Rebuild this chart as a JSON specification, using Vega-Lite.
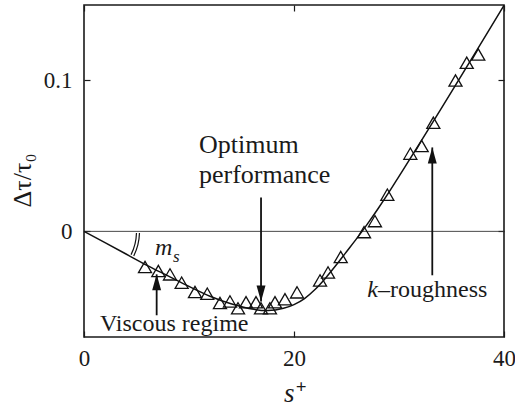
{
  "$schema": "https://vega.github.io/schema/vega-lite/v6.json",
  "width": 420,
  "height": 332,
  "autosize": {"type": "none"},
  "padding": {"left": 84, "top": 5, "right": 11, "bottom": 69},
  "background": "white",
  "config": {
    "view": {"stroke": "#1a1a1a", "strokeWidth": 1.6},
    "font": "'Liberation Serif', 'Times New Roman', Times, 'Noto Serif', 'DejaVu Serif', serif",
    "axis": {
      "domain": false,
      "grid": false,
      "ticks": true,
      "tickColor": "#1a1a1a",
      "tickWidth": 1.2,
      "tickSize": -6,
      "labelFont": "'Liberation Serif', 'Times New Roman', Times, 'Noto Serif', 'DejaVu Serif', serif",
      "labelFontSize": 23,
      "labelColor": "#1a1a1a",
      "labelFlush": false,
      "titleFont": "'Liberation Serif', 'Times New Roman', Times, 'Noto Serif', 'DejaVu Serif', serif",
      "titleColor": "#1a1a1a",
      "titleFontWeight": "normal"
    }
  },
  "datasets": {
    "curve": [
      {"s": 0, "tau": 0}, {"s": 4, "tau": -0.015}, {"s": 6, "tau": -0.0225},
      {"s": 8, "tau": -0.0295}, {"s": 10, "tau": -0.0365}, {"s": 12, "tau": -0.043},
      {"s": 14, "tau": -0.048}, {"s": 16, "tau": -0.0515}, {"s": 17.5, "tau": -0.0525},
      {"s": 19, "tau": -0.051}, {"s": 20, "tau": -0.0485}, {"s": 21, "tau": -0.0445},
      {"s": 22, "tau": -0.0385}, {"s": 23, "tau": -0.031}, {"s": 24, "tau": -0.0225},
      {"s": 25, "tau": -0.0135}, {"s": 26, "tau": -0.0045}, {"s": 27, "tau": 0.005},
      {"s": 28, "tau": 0.015}, {"s": 29, "tau": 0.0255}, {"s": 30, "tau": 0.0365},
      {"s": 31, "tau": 0.0475}, {"s": 40, "tau": 0.1497}
    ],
    "measured": [
      {"s": 5.81, "tau": -0.0236}, {"s": 7.08, "tau": -0.0263}, {"s": 8.19, "tau": -0.0285},
      {"s": 9.3, "tau": -0.034}, {"s": 10.57, "tau": -0.0402}, {"s": 11.74, "tau": -0.0413},
      {"s": 12.95, "tau": -0.0475}, {"s": 13.9, "tau": -0.0464}, {"s": 14.67, "tau": -0.051},
      {"s": 15.43, "tau": -0.047}, {"s": 16.38, "tau": -0.047}, {"s": 16.86, "tau": -0.051},
      {"s": 17.71, "tau": -0.051}, {"s": 18.19, "tau": -0.047}, {"s": 19.14, "tau": -0.045},
      {"s": 20.29, "tau": -0.0404}, {"s": 22.48, "tau": -0.0325}, {"s": 23.24, "tau": -0.0272},
      {"s": 24.45, "tau": -0.017}, {"s": 26.67, "tau": -0.0005}, {"s": 27.71, "tau": 0.0068},
      {"s": 28.89, "tau": 0.0243}, {"s": 31.08, "tau": 0.0515}, {"s": 32.16, "tau": 0.0566},
      {"s": 33.27, "tau": 0.072}, {"s": 35.38, "tau": 0.1}, {"s": 36.45, "tau": 0.1117},
      {"s": 37.55, "tau": 0.1172}
    ],
    "arrows": [
      {"s": 16.86, "tail": 0.0225, "tip": -0.0464, "dir": "down"},
      {"s": 6.92, "tail": -0.0556, "tip": -0.0285, "dir": "up"},
      {"s": 33.17, "tail": -0.0291, "tip": 0.0556, "dir": "up"}
    ],
    "headline": [
      {"s": 10.95, "tau": 0.0517, "label": "Optimum"},
      {"s": 10.95, "tau": 0.0318, "label": "performance"}
    ],
    "notes": [
      {"s": 1.52, "tau": -0.0662, "label": "Viscous regime"},
      {"s": 28.0, "tau": -0.0437, "label": "–roughness"}
    ]
  },
  "layer": [
    {
      "data": {"values": [{"tau": 0}]},
      "mark": {"type": "rule", "color": "#333333", "strokeWidth": 0.9},
      "encoding": {
        "y": {"field": "tau", "type": "quantitative", "scale": {"domain": [-0.07, 0.15], "nice": false}, "axis": null}
      }
    },
    {
      "data": {"name": "curve"},
      "mark": {"type": "line", "color": "#111111", "strokeWidth": 1.5, "interpolate": "monotone"},
      "encoding": {
        "x": {
          "field": "s", "type": "quantitative", "scale": {"domain": [0, 40], "nice": false},
          "axis": {"orient": "bottom", "values": [0, 20, 40], "labelPadding": 16,
                   "title": "s⁺", "titleFontSize": 27, "titleFontStyle": "italic",
                   "titleBaseline": "alphabetic", "titleY": 64}
        },
        "y": {
          "field": "tau", "type": "quantitative", "scale": {"domain": [-0.07, 0.15], "nice": false},
          "axis": {"orient": "left", "values": [0, 0.1], "format": "~g", "labelPadding": 18,
                   "title": "Δτ/τ₀", "titleFontSize": 26, "titleAngle": -90,
                   "titleAlign": "center", "titleBaseline": "middle", "titleX": -62, "titleY": 175}
        }
      }
    },
    {
      "data": {"name": "measured"},
      "mark": {"type": "point", "shape": "triangle-up", "size": 170, "filled": false,
               "color": "#111111", "strokeWidth": 1.3, "opacity": 1},
      "encoding": {
        "x": {"field": "s", "type": "quantitative", "scale": {"domain": [0, 40], "nice": false},
              "axis": {"orient": "top", "values": [0, 20, 40], "labels": false, "title": null}},
        "y": {"field": "tau", "type": "quantitative", "scale": {"domain": [-0.07, 0.15], "nice": false},
              "axis": {"orient": "right", "values": [0, 0.1], "labels": false, "title": null}}
      }
    },
    {
      "data": {"name": "arrows"},
      "mark": {"type": "rule", "color": "#111111", "strokeWidth": 1.8},
      "encoding": {
        "x": {"field": "s", "type": "quantitative", "axis": null},
        "y": {"field": "tail", "type": "quantitative", "axis": null},
        "y2": {"field": "tip"}
      }
    },
    {
      "data": {"name": "arrows"},
      "transform": [{"filter": "datum.dir === 'down'"}],
      "mark": {"type": "point", "shape": "M0,0L-0.56,-2L0.56,-2Z", "size": 256,
               "filled": true, "color": "#111111", "opacity": 1},
      "encoding": {
        "x": {"field": "s", "type": "quantitative", "axis": null},
        "y": {"field": "tip", "type": "quantitative", "axis": null}
      }
    },
    {
      "data": {"name": "arrows"},
      "transform": [{"filter": "datum.dir === 'up'"}],
      "mark": {"type": "point", "shape": "M0,0L-0.56,2L0.56,2Z", "size": 256,
               "filled": true, "color": "#111111", "opacity": 1},
      "encoding": {
        "x": {"field": "s", "type": "quantitative", "axis": null},
        "y": {"field": "tip", "type": "quantitative", "axis": null}
      }
    },
    {
      "data": {"name": "headline"},
      "mark": {"type": "text", "align": "left", "baseline": "alphabetic", "fontSize": 26,
               "color": "#1a1a1a"},
      "encoding": {
        "x": {"field": "s", "type": "quantitative", "axis": null},
        "y": {"field": "tau", "type": "quantitative", "axis": null},
        "text": {"field": "label"}
      }
    },
    {
      "data": {"name": "notes"},
      "mark": {"type": "text", "align": "left", "baseline": "alphabetic", "fontSize": 24,
               "color": "#1a1a1a"},
      "encoding": {
        "x": {"field": "s", "type": "quantitative", "axis": null},
        "y": {"field": "tau", "type": "quantitative", "axis": null},
        "text": {"field": "label"}
      }
    },
    {
      "data": {"values": [{"s": 28.0, "tau": -0.0437, "label": "k"}]},
      "mark": {"type": "text", "align": "right", "baseline": "alphabetic", "fontSize": 24,
               "fontStyle": "italic", "color": "#1a1a1a"},
      "encoding": {
        "x": {"field": "s", "type": "quantitative", "axis": null},
        "y": {"field": "tau", "type": "quantitative", "axis": null},
        "text": {"field": "label"}
      }
    },
    {
      "data": {"values": [{"s": 6.76, "tau": -0.0159, "label": "m"}]},
      "mark": {"type": "text", "align": "left", "baseline": "alphabetic", "fontSize": 24,
               "fontStyle": "italic", "color": "#1a1a1a"},
      "encoding": {
        "x": {"field": "s", "type": "quantitative", "axis": null},
        "y": {"field": "tau", "type": "quantitative", "axis": null},
        "text": {"field": "label"}
      }
    },
    {
      "data": {"values": [{"s": 8.48, "tau": -0.0205, "label": "s"}]},
      "mark": {"type": "text", "align": "left", "baseline": "alphabetic", "fontSize": 17,
               "fontStyle": "italic", "color": "#1a1a1a"},
      "encoding": {
        "x": {"field": "s", "type": "quantitative", "axis": null},
        "y": {"field": "tau", "type": "quantitative", "axis": null},
        "text": {"field": "label"}
      }
    },
    {
      "data": {"values": [{"s": 0, "tau": 0}]},
      "mark": {"type": "arc", "theta": 1.6, "theta2": 2.03, "radius": 52.5, "radius2": 52.5,
               "fill": null, "filled": false, "stroke": "#111111", "strokeWidth": 1.2},
      "encoding": {
        "x": {"field": "s", "type": "quantitative", "axis": null},
        "y": {"field": "tau", "type": "quantitative", "axis": null}
      }
    },
    {
      "data": {"values": [{"s": 0, "tau": 0}]},
      "mark": {"type": "arc", "theta": 1.6, "theta2": 2.03, "radius": 55.5, "radius2": 55.5,
               "fill": null, "filled": false, "stroke": "#111111", "strokeWidth": 1.2},
      "encoding": {
        "x": {"field": "s", "type": "quantitative", "axis": null},
        "y": {"field": "tau", "type": "quantitative", "axis": null}
      }
    }
  ],
  "resolve": {"axis": {"x": "independent", "y": "independent"}}
}
